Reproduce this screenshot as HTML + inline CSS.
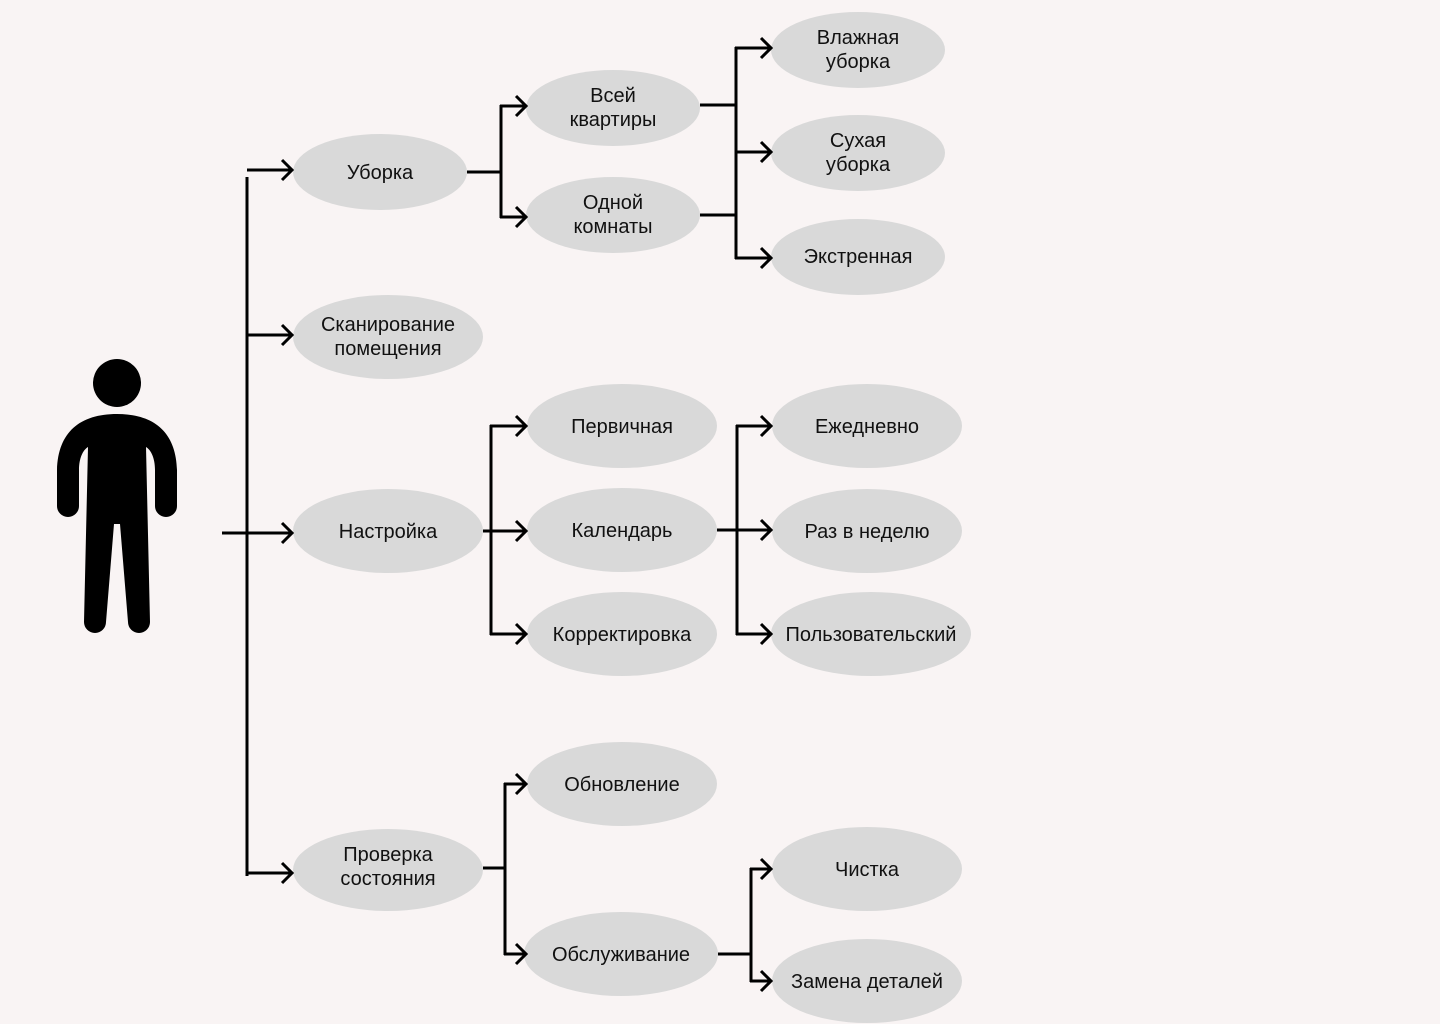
<!DOCTYPE html>
<html><head><meta charset="utf-8"><style>
html,body{margin:0;padding:0;background:#f9f4f4;}
svg{display:block}
text{font-family:"Liberation Sans","DejaVu Sans",sans-serif;font-size:20px;fill:#111;text-anchor:middle;}
</style></head><body>
<svg width="1440" height="1024" viewBox="0 0 1440 1024" xmlns="http://www.w3.org/2000/svg">
<defs>
<marker id="a" markerWidth="14" markerHeight="24" refX="12" refY="12" orient="auto" markerUnits="userSpaceOnUse">
<path d="M2,2 L12,12 L2,22" fill="none" stroke="#000" stroke-width="3"/>
</marker>
</defs>
<g fill="#d9d9d9">
<ellipse cx="380" cy="172" rx="87" ry="38"/>
<ellipse cx="388" cy="337" rx="95" ry="42"/>
<ellipse cx="388" cy="531" rx="95" ry="42"/>
<ellipse cx="388" cy="870" rx="95" ry="41"/>
<ellipse cx="613" cy="108" rx="87" ry="38"/>
<ellipse cx="613" cy="215" rx="87" ry="38"/>
<ellipse cx="858" cy="50" rx="87" ry="38"/>
<ellipse cx="858" cy="153" rx="87" ry="38"/>
<ellipse cx="858" cy="257" rx="87" ry="38"/>
<ellipse cx="622" cy="426" rx="95" ry="42"/>
<ellipse cx="622" cy="530" rx="95" ry="42"/>
<ellipse cx="622" cy="634" rx="95" ry="42"/>
<ellipse cx="867" cy="426" rx="95" ry="42"/>
<ellipse cx="867" cy="531" rx="95" ry="42"/>
<ellipse cx="871" cy="634" rx="100" ry="42"/>
<ellipse cx="622" cy="784" rx="95" ry="42"/>
<ellipse cx="621" cy="954" rx="97" ry="42"/>
<ellipse cx="867" cy="869" rx="95" ry="42"/>
<ellipse cx="867" cy="981" rx="95" ry="42"/>
</g>
<g stroke="#000" stroke-width="3" fill="none">
<line x1="247" y1="177" x2="247" y2="876"/>
<line x1="222" y1="533" x2="247" y2="533"/>
<line x1="247" y1="170" x2="292" y2="170" marker-end="url(#a)"/>
<line x1="247" y1="335" x2="292" y2="335" marker-end="url(#a)"/>
<line x1="247" y1="533" x2="292" y2="533" marker-end="url(#a)"/>
<line x1="247" y1="873" x2="292" y2="873" marker-end="url(#a)"/>

<line x1="467" y1="172" x2="501" y2="172"/>
<line x1="501" y1="105" x2="501" y2="218"/>
<line x1="500" y1="106" x2="526" y2="106" marker-end="url(#a)"/>
<line x1="500" y1="217" x2="526" y2="217" marker-end="url(#a)"/>

<line x1="700" y1="105" x2="736" y2="105"/>
<line x1="700" y1="215" x2="736" y2="215"/>
<line x1="736" y1="47" x2="736" y2="259"/>
<line x1="735" y1="48" x2="771" y2="48" marker-end="url(#a)"/>
<line x1="735" y1="152" x2="771" y2="152" marker-end="url(#a)"/>
<line x1="735" y1="258" x2="771" y2="258" marker-end="url(#a)"/>

<line x1="483" y1="531" x2="491" y2="531"/>
<line x1="491" y1="425" x2="491" y2="635"/>
<line x1="490" y1="426" x2="526" y2="426" marker-end="url(#a)"/>
<line x1="490" y1="531" x2="526" y2="531" marker-end="url(#a)"/>
<line x1="490" y1="634" x2="526" y2="634" marker-end="url(#a)"/>

<line x1="717" y1="530" x2="737" y2="530"/>
<line x1="737" y1="425" x2="737" y2="635"/>
<line x1="736" y1="426" x2="771" y2="426" marker-end="url(#a)"/>
<line x1="736" y1="530" x2="771" y2="530" marker-end="url(#a)"/>
<line x1="736" y1="634" x2="771" y2="634" marker-end="url(#a)"/>

<line x1="483" y1="868" x2="505" y2="868"/>
<line x1="505" y1="783" x2="505" y2="955"/>
<line x1="504" y1="784" x2="526" y2="784" marker-end="url(#a)"/>
<line x1="504" y1="954" x2="526" y2="954" marker-end="url(#a)"/>

<line x1="718" y1="954" x2="751" y2="954"/>
<line x1="751" y1="868" x2="751" y2="982"/>
<line x1="750" y1="869" x2="771" y2="869" marker-end="url(#a)"/>
<line x1="750" y1="981" x2="771" y2="981" marker-end="url(#a)"/>
</g>
<g fill="#000">
<circle cx="117" cy="383" r="24"/>
<path d="M117,414 C80,414 58,432 57,470 L57,506 A11,11 0 0 0 79,506 L79,470 C79,458 83,450 88,447 L84,622 A11,11 0 0 0 106,622 L114,524 L120,524 L128,622 A11,11 0 0 0 150,622 L146,447 C151,450 155,458 155,470 L155,506 A11,11 0 0 0 177,506 L177,470 C176,432 154,414 117,414 Z"/>
</g>
<text x="380" y="179">Уборка</text>
<text x="388" y="331">Сканирование</text><text x="388" y="355">помещения</text>
<text x="388" y="538">Настройка</text>
<text x="388" y="861">Проверка</text><text x="388" y="885">состояния</text>
<text x="613" y="102">Всей</text><text x="613" y="126">квартиры</text>
<text x="613" y="209">Одной</text><text x="613" y="233">комнаты</text>
<text x="858" y="44">Влажная</text><text x="858" y="68">уборка</text>
<text x="858" y="147">Сухая</text><text x="858" y="171">уборка</text>
<text x="858" y="263">Экстренная</text>
<text x="622" y="433">Первичная</text>
<text x="622" y="537">Календарь</text>
<text x="622" y="641">Корректировка</text>
<text x="867" y="433">Ежедневно</text>
<text x="867" y="538">Раз в неделю</text>
<text x="871" y="641">Пользовательский</text>
<text x="622" y="791">Обновление</text>
<text x="621" y="961">Обслуживание</text>
<text x="867" y="876">Чистка</text>
<text x="867" y="988">Замена деталей</text>
</svg>
</body></html>
